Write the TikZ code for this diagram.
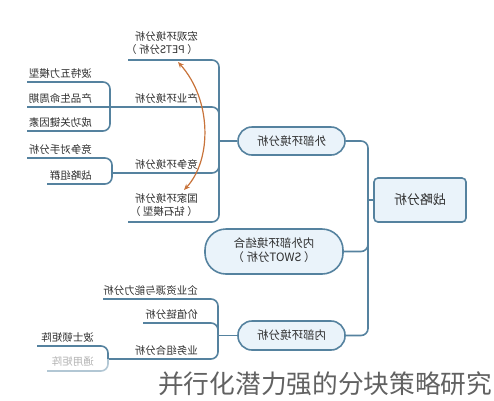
\documentclass[tikz,border=0pt]{standalone}
\usepackage{fontspec}
\usepackage{graphicx}
\setmainfont{Noto Sans CJK SC}
\usetikzlibrary{arrows.meta}
\definecolor{lnc}{HTML}{55829F}
\definecolor{nfill}{HTML}{EAF3FA}
\definecolor{txc}{HTML}{2E2E2E}
\definecolor{arc}{HTML}{C8733A}
\newcommand{\mir}[1]{\reflectbox{#1}}
\tikzset{
  conn/.style={draw=lnc, line width=1.6pt, rounded corners=7pt},
  lbl/.style={inner sep=0pt, anchor=south east, text=txc, font=\fontsize{10.5}{12.5}\selectfont},
  pill/.style={draw=lnc, fill=nfill, line width=1.6pt, text=txc, font=\fontsize{11.5}{14}\selectfont, inner sep=0pt},
}
\begin{document}
\begin{tikzpicture}[x=1pt,y=-1pt]
\useasboundingbox (0,0) rectangle (494,400);
% main nodes
\node[pill, rounded corners=4pt, minimum width=92pt, minimum height=44pt] (root) at (420,200) {\mir{\fontsize{13}{15}\selectfont 战略分析}};
\node[pill, rounded corners=14pt, minimum width=107pt, minimum height=28pt] (ext) at (291.5,141) {\mir{外部环境分析}};
\node[pill, rounded corners=21pt, minimum width=138pt, minimum height=45pt] (swot) at (274,251.5) {\mir{\begin{tabular}{@{}c@{}}内外部环境结合\\（ SWOT分析 ）\end{tabular}}};
\node[pill, rounded corners=14pt, minimum width=107pt, minimum height=29pt] (int) at (291.5,335.5) {\mir{内部环境分析}};
% junction coordinates
\coordinate (rj) at (368,200);
\coordinate (ej) at (219,141);
\coordinate (ij) at (218,335.5);
\coordinate (cyj) at (110,107);
\coordinate (jzj) at (112,173);
\coordinate (ywj) at (108,359);
% line ends
\coordinate (hgE) at (128,60);
\coordinate (cyE) at (27,107);
\coordinate (jzE) at (112,173);
\coordinate (gjE) at (128,222);
\coordinate (btE) at (27,82);
\coordinate (cgE) at (27,131);
\coordinate (dsE) at (27,158);
\coordinate (zlE) at (47,184);
\coordinate (qyE) at (103,299);
\coordinate (jzlE) at (143,323);
\coordinate (ywE) at (108,359);
\coordinate (bsE) at (37,346);
\coordinate (tyE) at (47,371);
% root connectors
\draw[conn] (root.west) -- (rj);
\draw[conn] (rj) |- (ext.east);
\draw[conn] (rj) |- (swot.east);
\draw[conn] (rj) |- (int.east);
% external branches
\draw[conn] (ext.west) -- (ej);
\draw[conn] (ej) |- (hgE);
\draw[conn] (ej) |- (cyE);
\draw[conn] (ej) |- (jzE);
\draw[conn] (ej) |- (gjE);
\draw[conn] (cyj) |- (btE);
\draw[conn] (cyj) |- (cgE);
\draw[conn] (jzj) |- (dsE);
\draw[conn] (jzj) |- (zlE);
% internal branches
\draw[conn] (int.west) -- (ij);
\draw[conn] (ij) |- (qyE);
\draw[conn] (ij) |- (jzlE);
\draw[conn] (ij) |- (ywE);
\draw[conn] (ywj) |- (bsE);
\draw[conn, draw=lnc!45] (ywj) |- (tyE);
% labels
\node[lbl] (hg) at (198,57) {\mir{\begin{tabular}{@{}l@{}}宏观环境分析\\（ PETS分析 ）\end{tabular}}};
\node[lbl] (cy) at (198,104) {\mir{产业环境分析}};
\node[lbl] (jz) at (198,170) {\mir{竞争环境分析}};
\node[lbl] (gj) at (198,219) {\mir{\begin{tabular}{@{}l@{}}国家环境分析\\（ 钻石模型 ）\end{tabular}}};
\node[lbl] (bt) at (92,79) {\mir{波特五力模型}};
\node[lbl] (cp) at (92,104) {\mir{产品生命周期}};
\node[lbl] (cg) at (92,128) {\mir{成功关键因素}};
\node[lbl] (ds) at (92,155) {\mir{竞争对手分析}};
\node[lbl] (zl) at (92,181) {\mir{战略组群}};
\node[lbl] (qy) at (198,296) {\mir{企业资源与能力分析}};
\node[lbl] (jzl) at (198,320) {\mir{价值链分析}};
\node[lbl] (yw) at (198,356) {\mir{业务组合分析}};
\node[lbl] (bs) at (94,343) {\mir{波士顿矩阵}};
\node[lbl, text=gray!60] (ty) at (94,367) {\mir{通用矩阵}};
% orange double arrow
\coordinate (aT) at (178,62);
\coordinate (aB) at (184,190);
\draw[arc, line width=1.2pt, {Stealth[length=6pt,width=5pt]}-{Stealth[length=6pt,width=5pt]}] (aT) .. controls (212,100) and (212,160) .. (aB);
% watermark
\node[anchor=south west, inner sep=0pt, text=black!62, font=\fontsize{25.7}{27}\selectfont] (wm) at (158,396) {并行化潜力强的分块策略研究};
\end{tikzpicture}
\end{document}
